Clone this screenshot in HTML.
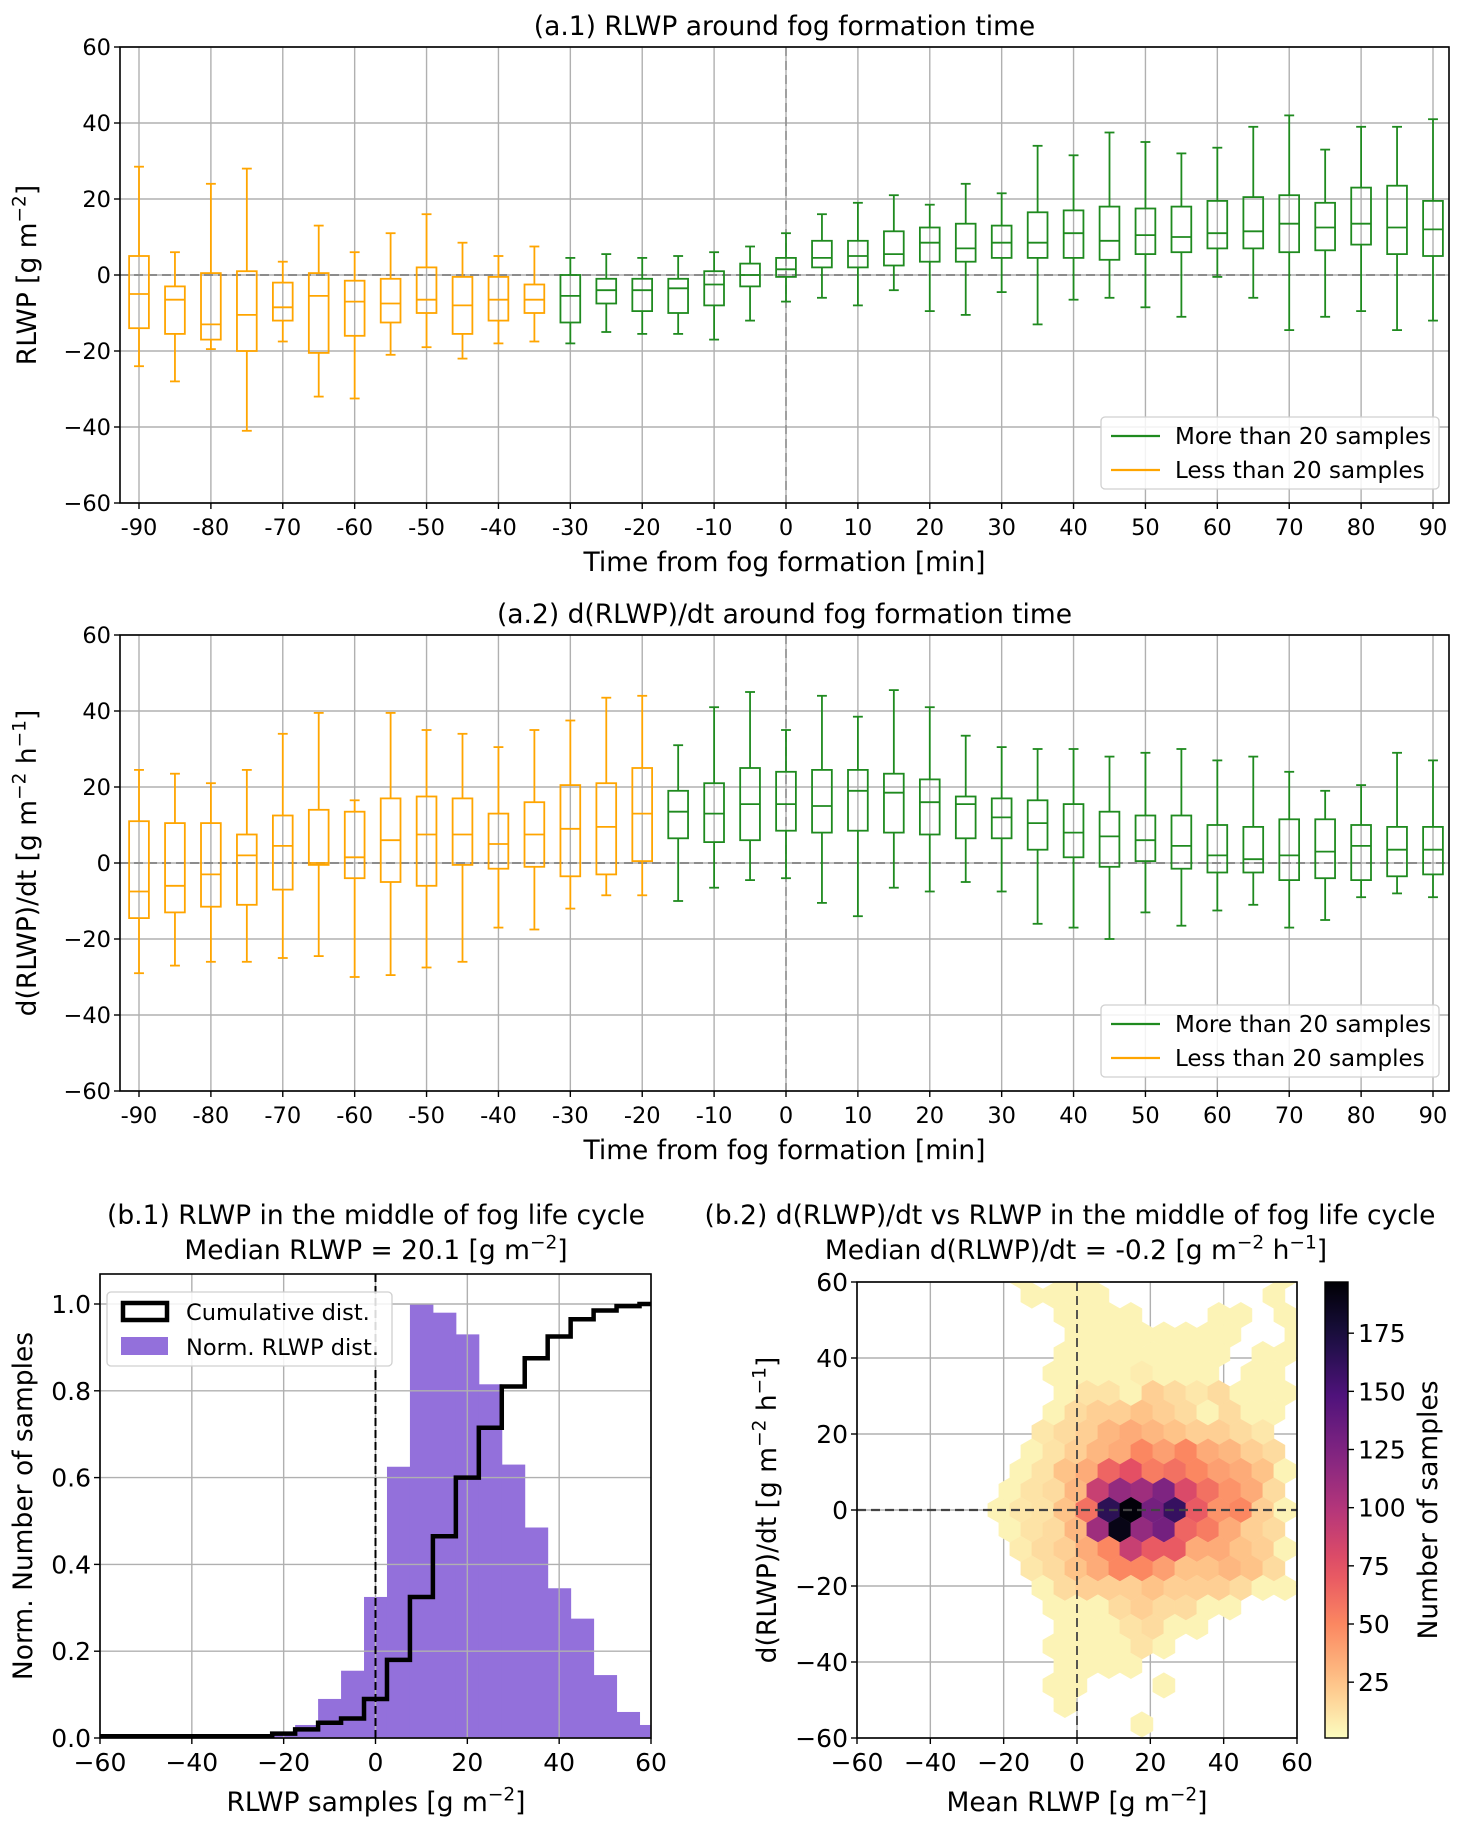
<!DOCTYPE html>
<html><head><meta charset="utf-8"><style>
html,body{margin:0;padding:0;background:#fff;}
svg{display:block;font-family:"DejaVu Sans","Liberation Sans",sans-serif;}
</style></head><body>
<svg id="fig" width="1466" height="1830" viewBox="0 0 1466 1830" xmlns="http://www.w3.org/2000/svg">
<defs>
<clipPath id="clipA1"><rect x="120" y="47" width="1329" height="456"/></clipPath>
<clipPath id="clipA2"><rect x="120" y="635" width="1329" height="456"/></clipPath>
<clipPath id="clipB1"><rect x="100" y="1274" width="551" height="464"/></clipPath>
<clipPath id="clipB2"><rect x="857" y="1282" width="440" height="456"/></clipPath>
<linearGradient id="cbGrad" x1="0" y1="1" x2="0" y2="0"></linearGradient>
</defs>
</svg>
<script>
// ---------- DATA ----------
const times = [-90,-85,-80,-75,-70,-65,-60,-55,-50,-45,-40,-35,-30,-25,-20,-15,-10,-5,0,5,10,15,20,25,30,35,40,45,50,55,60,65,70,75,80,85,90];
// panel a.1 RLWP
const a1Lo  = [-24,-28,-19.5,-41,-17.5,-32,-32.5,-21,-19,-22,-18,-17.5,-18,-15,-15.5,-15.5,-17,-12,-7,-6,-8,-4,-9.5,-10.5,-4.5,-13,-6.5,-6,-8.5,-11,-0.5,-6,-14.5,-11,-9.5,-14.5,-12];
const a1Q1  = [-14,-15.5,-17,-20,-12,-20.5,-16,-12.5,-10,-15.5,-12,-10,-12.5,-7.5,-9.5,-10,-8,-3,-0.5,2,2,2.5,3.5,3.5,4.5,4.5,4.5,4,5.5,6,7,7,6,6.5,8,5.5,5];
const a1Med = [-5,-6.5,-13,-10.5,-8.5,-5.5,-7,-7.5,-6.5,-8,-6.5,-6.5,-5.5,-4,-4,-3.5,-2.5,0,1.5,4.5,5,5.5,8.5,7,8.5,8.5,11,9,10.5,10,11,11.5,13.5,12.5,13.5,12.5,12];
const a1Q3  = [5,-3,0.5,1,-2,0.5,-1.5,-1,2,-0.5,-0.5,-2.5,0,-1,-1,-1,1,3,4.5,9,9,11.5,12.5,13.5,13,16.5,17,18,17.5,18,19.5,20.5,21,19,23,23.5,19.5];
const a1Hi  = [28.5,6,24,28,3.5,13,6,11,16,8.5,5,7.5,4.5,5.5,4.5,5,6,7.5,11,16,19,21,18.5,24,21.5,34,31.5,37.5,35,32,33.5,39,42,33,39,39,41];
const a1Few = [1,1,1,1,1,1,1,1,1,1,1,1,0,0,0,0,0,0,0,0,0,0,0,0,0,0,0,0,0,0,0,0,0,0,0,0,0];
// panel a.2 d(RLWP)/dt
const a2Lo  = [-29,-27,-26,-26,-25,-24.5,-30,-29.5,-27.5,-26,-17,-17.5,-12,-8.5,-8.5,-10,-6.5,-4.5,-4,-10.5,-14,-6.5,-7.5,-5,-7.5,-16,-17,-20,-13,-16.5,-12.5,-11,-17,-15,-9,-8,-9];
const a2Q1  = [-14.5,-13,-11.5,-11,-7,-0.5,-4,-5,-6,-0.5,-1.5,-1,-3.5,-3,0.5,6.5,5.5,6,8.5,8,8.5,8,7.5,6.5,6.5,3.5,1.5,-1,0.5,-1.5,-2.5,-2.5,-4.5,-4,-4.5,-3.5,-3];
const a2Med = [-7.5,-6,-3,2,4.5,0,1.5,6,7.5,7.5,5,7.5,9,9.5,13,13.5,13,15.5,15.5,15,19,18.5,16,15.5,12,10.5,8,7,6,4.5,2,1,2,3,4.5,3.5,3.5];
const a2Q3  = [11,10.5,10.5,7.5,12.5,14,13.5,17,17.5,17,13,16,20.5,21,25,19,21,25,24,24.5,24.5,23.5,22,17.5,17,16.5,15.5,13.5,12.5,12.5,10,9.5,11.5,11.5,10,9.5,9.5];
const a2Hi  = [24.5,23.5,21,24.5,34,39.5,16.5,39.5,35,34,30.5,35,37.5,43.5,44,31,41,45,35,44,38.5,45.5,41,33.5,30.5,30,30,28,29,30,27,28,24,19,20.5,29,27];
const a2Few = [1,1,1,1,1,1,1,1,1,1,1,1,1,1,1,0,0,0,0,0,0,0,0,0,0,0,0,0,0,0,0,0,0,0,0,0,0];
// panel b.1 histogram
const histEdges = [-32.5,-27.5,-22.5,-17.5,-12.5,-7.5,-2.5,2.5,7.5,12.5,17.5,22.5,27.5,32.5,37.5,42.5,47.5,52.5,57.5,62.5];
const histVals  = [0.003,0.005,0.015,0.03,0.09,0.155,0.325,0.625,1.0,0.98,0.93,0.815,0.63,0.485,0.345,0.275,0.145,0.06,0.03];
const cumEdges  = [-60,-22.5,-17.5,-12.5,-7.5,-2.5,2.5,7.5,12.5,17.5,22.5,27.5,32.5,37.5,42.5,47.5,52.5,57.5,60];
const cumVals   = [0.004,0.01,0.02,0.035,0.045,0.09,0.18,0.325,0.465,0.6,0.715,0.81,0.875,0.925,0.965,0.985,0.995,1.0];
// panel b.2 hexbin (rows from top)
const hexRowIdx = [12,11,10,9,8,7,6,5,4,3,2,1,0,-1,-2,-3,-4,-5,-6,-7,-8,-9,-10,-11];
const hexCounts = [
 [0,0,5,0,5,5,0,0,0,0,0,0,0,0,5],
 [0,0,0,5,5,5,5,0,0,0,0,0,0,0,5,0],
 [0,0,0,0,5,5,5,5,0,0,0,5,5,0,5],
 [0,0,0,0,0,5,5,5,5,5,5,5,5,0,0,5],
 [0,0,0,0,5,5,5,5,5,5,5,5,0,5,5],
 [0,0,0,0,5,5,5,5,8,5,5,5,0,5,5,0],
 [0,0,0,0,5,12,12,5,20,15,10,15,5,5,5],
 [0,0,0,0,5,15,20,20,25,20,15,5,15,5,5,0],
 [0,0,0,10,15,20,30,35,30,25,20,20,15,10,0],
 [0,0,0,5,12,20,30,35,50,40,50,35,30,20,15,0],
 [0,0,5,12,25,35,65,75,55,60,50,40,35,25,5],
 [0,0,5,12,15,30,90,115,110,125,80,60,45,35,15,0],
 [0,5,10,12,25,60,165,195,130,160,70,45,50,20,5],
 [0,0,5,12,15,30,110,190,115,130,65,55,35,20,15,0],
 [0,0,8,15,20,35,50,90,70,70,35,35,25,20,5],
 [0,0,0,10,15,25,35,50,50,40,25,25,30,25,15,0],
 [0,0,0,5,15,20,20,20,25,20,20,20,15,5,5],
 [0,0,0,0,5,5,5,15,20,15,15,5,5,0,0,0],
 [0,0,0,0,5,5,5,12,15,5,5,0,0,0,0],
 [0,0,0,0,5,5,5,5,12,5,0,0,0,0,0,0],
 [0,0,0,0,5,5,5,5,0,0,0,0,0,0,0],
 [0,0,0,0,5,5,0,0,0,5,0,0,0,0,0,0],
 [0,0,0,0,5,0,0,0,0,0,0,0,0,0,0],
 [0,0,0,0,0,0,0,0,5,0,0,0,0,0,0,0]
];
const cbTicks = [25,50,75,100,125,150,175];
const xTicksA = [-90,-80,-70,-60,-50,-40,-30,-20,-10,0,10,20,30,40,50,60,70,80,90];
const yTicksA = [-60,-40,-20,0,20,40,60];
const xTicksB = [-60,-40,-20,0,20,40,60];
const yTicksB1 = [0,0.2,0.4,0.6,0.8,1.0];

// ---------- HELPERS ----------
const NS = 'http://www.w3.org/2000/svg';
const svg = document.getElementById('fig');
const FT = 22.5;   // tick font (top)
const FTB = 25;    // tick font (bottom)
const FL = 26.5;   // axis label font
const FTI = 26.5;  // top titles
const FTIB = 26.5; // bottom titles
function mk(tag, attrs, parent){
  const e = document.createElementNS(NS, tag);
  for (const k in attrs) e.setAttribute(k, attrs[k]);
  (parent||svg).appendChild(e);
  return e;
}
function txt(s, x, y, size, anchor, parent, rot){
  const t = mk('text', {x:x, y:y, 'font-size':size, 'text-anchor':anchor||'middle', fill:'#000'}, parent);
  if (rot) t.setAttribute('transform', 'rotate(' + rot + ' ' + x + ' ' + y + ')');
  t.textContent = s;
  return t;
}
function scale(d0, d1, p0, p1){ return v => p0 + (v - d0) / (d1 - d0) * (p1 - p0); }
function fmtMinus(v){ return String(v).replace('-', '\u2212'); }
function sup(s, fs){ return '<tspan dy="-' + (fs*0.4) + '" font-size="' + (fs*0.7) + '">' + s + '</tspan>'; }

// ---------- BOX PANELS ----------
function boxPanel(id, top, bottom, lo, q1, med, q3, hi, few, title, ylabelParts){
  const L = 120, R = 1449;
  const xs = scale(-90, 90, 139, 1433);
  const ys = scale(-60, 60, bottom, top);
  const g = mk('g', {});
  
  
  const grid = mk('g', {stroke:'#b0b0b0', 'stroke-width':1.4}, g);
  
  
  xTicksA.forEach(t => { mk('line', {x1:xs(t), x2:xs(t), y1:top, y2:bottom}, grid); });
  yTicksA.forEach(t => { mk('line', {x1:L, x2:R, y1:ys(t), y2:ys(t)}, grid); });
  const zl = mk('g', {stroke:'#8c8c8c', 'stroke-width':2, 'stroke-dasharray':'9,5'}, g);
  
  
  mk('line', {x1:L, x2:R, y1:ys(0), y2:ys(0)}, zl);
  mk('line', {x1:xs(0), x2:xs(0), y1:top, y2:bottom, 'stroke-width':1.5}, zl);
  const boxes = mk('g', {'clip-path':'url(#clip' + (id === 'a1' ? 'A1' : 'A2') + ')', fill:'none', 'stroke-width':1.8}, g);
  
  
  const hw = (xs(1.375) - xs(0)), cw = hw / 2;
  times.forEach((t, i) => {
    const c = few[i] ? '#ffa500' : '#1f8a1f';
    const bg = mk('g', {stroke:c}, boxes);
    
    
    const cx = xs(t);
    mk('rect', {x:cx - hw, y:ys(q3[i]), width:2*hw, height:ys(q1[i]) - ys(q3[i])}, bg);
    mk('line', {x1:cx - hw, x2:cx + hw, y1:ys(med[i]), y2:ys(med[i])}, bg);
    mk('line', {x1:cx, x2:cx, y1:ys(q3[i]), y2:ys(hi[i])}, bg);
    mk('line', {x1:cx, x2:cx, y1:ys(q1[i]), y2:ys(lo[i])}, bg);
    mk('line', {x1:cx - cw, x2:cx + cw, y1:ys(hi[i]), y2:ys(hi[i])}, bg);
    mk('line', {x1:cx - cw, x2:cx + cw, y1:ys(lo[i]), y2:ys(lo[i])}, bg);
  });
  const frame = mk('rect', {x:L, y:top, width:R - L, height:bottom - top, fill:'none', stroke:'#000', 'stroke-width':1.6}, g);
  
  
  const xt = mk('g', {}, g);
  
  
  xTicksA.forEach(t => {
    mk('line', {x1:xs(t), x2:xs(t), y1:bottom, y2:bottom + 6, stroke:'#000', 'stroke-width':1.4}, xt);
    txt(String(t), xs(t), bottom + 32, FT, 'middle', xt);
  });
  const yt = mk('g', {}, g);
  
  
  yTicksA.forEach(t => {
    mk('line', {x1:L - 6, x2:L, y1:ys(t), y2:ys(t), stroke:'#000', 'stroke-width':1.4}, yt);
    txt(fmtMinus(t), L - 9, ys(t) + 8, FT, 'end', yt);
  });
  const ti = txt(title, (L + R) / 2, top - 12, FTI, 'middle', g);
  
  
  const xl = txt('Time from fog formation [min]', (L + R) / 2, bottom + 68, FL, 'middle', g);
  
  
  const yl = mk('text', {x:36, y:(top + bottom) / 2, 'font-size':FL, 'text-anchor':'middle', transform:'rotate(-90 36 ' + (top + bottom) / 2 + ')'}, g);
  
  
  yl.innerHTML = ylabelParts;
  // legend
  const lg = mk('g', {}, g);
  
  
  const ly = top + 370;
  mk('rect', {x:1101, y:ly, width:338, height:72, rx:4, fill:'#fff', 'fill-opacity':0.85, stroke:'#d0d0d0', 'stroke-width':1.3}, lg);
  const e1 = mk('line', {x1:1111, x2:1160, y1:ly + 19, y2:ly + 19, stroke:'#1f8a1f', 'stroke-width':2.2}, lg);
  
  
  txt('More than 20 samples', 1175, ly + 27, 23, 'start', lg);
  const e2 = mk('line', {x1:1111, x2:1160, y1:ly + 53, y2:ly + 53, stroke:'#ffa500', 'stroke-width':2.2}, lg);
  
  
  txt('Less than 20 samples', 1175, ly + 61, 23, 'start', lg);
}
boxPanel('a1', 47, 503, a1Lo, a1Q1, a1Med, a1Q3, a1Hi, a1Few, '(a.1) RLWP around fog formation time',
  'RLWP [g m' + sup('\u22122', FL) + '<tspan dy="' + (FL*0.4) + '">]</tspan>');
boxPanel('a2', 635, 1091, a2Lo, a2Q1, a2Med, a2Q3, a2Hi, a2Few, '(a.2) d(RLWP)/dt around fog formation time',
  'd(RLWP)/dt [g m' + sup('\u22122', FL) + '<tspan dy="' + (FL*0.4) + '"> h</tspan>' + sup('\u22121', FL) + '<tspan dy="' + (FL*0.4) + '">]</tspan>');

// ---------- PANEL b.1 ----------
(function(){
  const L = 100, R = 651, T = 1274, B = 1738;
  const xs = scale(-60, 60, L, R);
  const ys = scale(0, 1, 1738, 1304);
  const g = mk('g', {});
  
  
  const bars = mk('g', {'clip-path':'url(#clipB1)', fill:'#9370db'}, g);
  
  
  histVals.forEach((v, i) => {
    const r = mk('rect', {x:xs(histEdges[i]), y:ys(v), width:xs(histEdges[i+1]) - xs(histEdges[i]) + 0.5, height:ys(0) - ys(v)}, bars);
    
    
  });
  const grid = mk('g', {stroke:'#b0b0b0', 'stroke-width':1.4}, g);
  
  
  xTicksB.forEach(t => { mk('line', {x1:xs(t), x2:xs(t), y1:T, y2:B}, grid); });
  yTicksB1.forEach(t => { mk('line', {x1:L, x2:R, y1:ys(t), y2:ys(t)}, grid); });
  const z = mk('line', {x1:xs(0), x2:xs(0), y1:T, y2:B, stroke:'#000', 'stroke-width':2, 'stroke-dasharray':'8,4'}, g);
  
  
  let d = '';
  cumVals.forEach((v, i) => {
    d += (i === 0 ? 'M' : 'L') + xs(cumEdges[i]) + ',' + ys(v) + 'L' + xs(cumEdges[i+1]) + ',' + ys(v);
  });
  const cum = mk('path', {d:d, fill:'none', stroke:'#000', 'stroke-width':4.5, 'clip-path':'url(#clipB1)'}, g);
  
  
  const frame = mk('rect', {x:L, y:T, width:R - L, height:B - T, fill:'none', stroke:'#000', 'stroke-width':1.6}, g);
  
  
  const xt = mk('g', {}, g);
  
  
  xTicksB.forEach(t => {
    mk('line', {x1:xs(t), x2:xs(t), y1:B, y2:B + 6, stroke:'#000', 'stroke-width':1.4}, xt);
    txt(fmtMinus(t), xs(t), B + 33, FTB, 'middle', xt);
  });
  const yt = mk('g', {}, g);
  
  
  yTicksB1.forEach(t => {
    mk('line', {x1:L - 6, x2:L, y1:ys(t), y2:ys(t), stroke:'#000', 'stroke-width':1.4}, yt);
    txt(t.toFixed(1), L - 9, ys(t) + 9, FTB, 'end', yt);
  });
  const t1 = txt('(b.1) RLWP in the middle of fog life cycle', 376, 1224, FTIB, 'middle', g);
  
  
  const t2 = mk('text', {x:376, y:1259, 'font-size':FTIB, 'text-anchor':'middle'}, g);
  
  
  t2.innerHTML = 'Median RLWP = 20.1 [g m' + sup('\u22122', FTIB) + '<tspan dy="' + (FTIB*0.4) + '">]</tspan>';
  const xl = mk('text', {x:376, y:1811, 'font-size':FL, 'text-anchor':'middle'}, g);
  
  
  xl.innerHTML = 'RLWP samples [g m' + sup('\u22122', FL) + '<tspan dy="' + (FL*0.4) + '">]</tspan>';
  const yl = txt('Norm. Number of samples', 32, 1506, FL, 'middle', g, -90);
  
  
  const lg = mk('g', {}, g);
  
  
  mk('rect', {x:107, y:1292, width:285, height:74, rx:4, fill:'#fff', 'fill-opacity':0.85, stroke:'#d0d0d0', 'stroke-width':1.3}, lg);
  const s1 = mk('rect', {x:123, y:1303, width:44, height:17, fill:'none', stroke:'#000', 'stroke-width':4.5}, lg);
  
  
  txt('Cumulative dist.', 186, 1320, 22.5, 'start', lg);
  const s2 = mk('rect', {x:121, y:1337, width:47, height:18, fill:'#9370db'}, lg);
  
  
  txt('Norm. RLWP dist.', 186, 1355, 22.5, 'start', lg);
})();

// ---------- PANEL b.2 ----------
const magmaStops = [[0,'#000004'],[0.125,'#1c1044'],[0.25,'#4f127b'],[0.375,'#812581'],[0.5,'#b5367a'],[0.625,'#e55064'],[0.75,'#fb8761'],[0.875,'#fec287'],[1,'#fcfdbf']];
function hex2rgb(h){ return [parseInt(h.substr(1,2),16), parseInt(h.substr(3,2),16), parseInt(h.substr(5,2),16)]; }
function magma(t){
  t = Math.max(0, Math.min(1, t));
  for (let i = 1; i < magmaStops.length; i++){
    if (t <= magmaStops[i][0]){
      const a = magmaStops[i-1], b = magmaStops[i];
      const f = (t - a[0]) / (b[0] - a[0]);
      const ca = hex2rgb(a[1]), cb = hex2rgb(b[1]);
      return 'rgb(' + ca.map((v, k) => Math.round(v + (cb[k] - v) * f)).join(',') + ')';
    }
  }
  return magmaStops[magmaStops.length-1][1];
}
const cMin = 1, cMax = 197;
(function(){
  const L = 857, R = 1297, T = 1282, B = 1738;
  const xs = scale(-60, 60, L, R);
  const ys = scale(-60, 60, B, T);
  const g = mk('g', {});
  
  
  const grid = mk('g', {stroke:'#b0b0b0', 'stroke-width':1.4}, g);
  
  
  xTicksB.forEach(t => { mk('line', {x1:xs(t), x2:xs(t), y1:T, y2:B}, grid); });
  xTicksB.forEach(t => { mk('line', {x1:L, x2:R, y1:ys(t), y2:ys(t)}, grid); });
  const hg = mk('g', {'clip-path':'url(#clipB2)'}, g);
  
  
  const w = 22, rr = 12.7;
  hexCounts.forEach((row, ri) => {
    const r = hexRowIdx[ri];
    const odd = Math.abs(r) % 2 === 1;
    const x0 = odd ? -30.3 : -27.3;
    row.forEach((c, j) => {
      if (!c) return;
      const cx = xs(x0 + 6 * j), cy = ys(r * 5.13);
      const pts = [[cx, cy - rr], [cx + w/2, cy - rr/2], [cx + w/2, cy + rr/2], [cx, cy + rr], [cx - w/2, cy + rr/2], [cx - w/2, cy - rr/2]].map(p => p.join(',')).join(' ');
      const col = magma(1 - (c - cMin) / (cMax - cMin));
      const p = mk('polygon', {points:pts, fill:col, stroke:col, 'stroke-width':0.6}, hg);
      
      
    });
  });
  const zl = mk('g', {stroke:'#444', 'stroke-width':2.2, 'stroke-dasharray':'9,5'}, g);
  
  
  mk('line', {x1:L, x2:R, y1:ys(0), y2:ys(0)}, zl);
  mk('line', {x1:xs(0), x2:xs(0), y1:T, y2:B, 'stroke-width':1.8}, zl);
  const frame = mk('rect', {x:L, y:T, width:R - L, height:B - T, fill:'none', stroke:'#000', 'stroke-width':1.6}, g);
  
  
  const xt = mk('g', {}, g);
  
  
  xTicksB.forEach(t => {
    mk('line', {x1:xs(t), x2:xs(t), y1:B, y2:B + 6, stroke:'#000', 'stroke-width':1.4}, xt);
    txt(fmtMinus(t), xs(t), B + 33, FTB, 'middle', xt);
  });
  const yt = mk('g', {}, g);
  
  
  xTicksB.forEach(t => {
    mk('line', {x1:L - 6, x2:L, y1:ys(t), y2:ys(t), stroke:'#000', 'stroke-width':1.4}, yt);
    txt(fmtMinus(t), L - 9, ys(t) + 9, FTB, 'end', yt);
  });
  const t1 = txt('(b.2) d(RLWP)/dt vs RLWP in the middle of fog life cycle', 1070, 1224, FTIB, 'middle', g);
  
  
  const t2 = mk('text', {x:1076, y:1259, 'font-size':FTIB, 'text-anchor':'middle'}, g);
  
  
  t2.innerHTML = 'Median d(RLWP)/dt = -0.2 [g m' + sup('\u22122', FTIB) + '<tspan dy="' + (FTIB*0.4) + '"> h</tspan>' + sup('\u22121', FTIB) + '<tspan dy="' + (FTIB*0.4) + '">]</tspan>';
  const xl = mk('text', {x:1077, y:1811, 'font-size':FL, 'text-anchor':'middle'}, g);
  
  
  xl.innerHTML = 'Mean RLWP [g m' + sup('\u22122', FL) + '<tspan dy="' + (FL*0.4) + '">]</tspan>';
  const yl = mk('text', {x:776, y:1510, 'font-size':FL, 'text-anchor':'middle', transform:'rotate(-90 776 1510)'}, g);
  
  
  yl.innerHTML = 'd(RLWP)/dt [g m' + sup('\u22122', FL) + '<tspan dy="' + (FL*0.4) + '"> h</tspan>' + sup('\u22121', FL) + '<tspan dy="' + (FL*0.4) + '">]</tspan>';

  // colorbar
  const grad = document.getElementById('cbGrad');
  for (let i = 0; i <= 20; i++){
    const st = document.createElementNS(NS, 'stop');
    st.setAttribute('offset', (i / 20).toFixed(2));
    st.setAttribute('stop-color', magma(1 - i / 20));
    grad.appendChild(st);
  }
  const cb = mk('g', {}, g);
  
  
  const cy = scale(cMin, cMax, 1738, 1282);
  mk('rect', {x:1325, y:1282, width:23, height:456, fill:'url(#cbGrad)', stroke:'#000', 'stroke-width':1.4}, cb);
  cbTicks.forEach(t => {
    mk('line', {x1:1348, x2:1354, y1:cy(t), y2:cy(t), stroke:'#000', 'stroke-width':1.4}, cb);
    txt(String(t), 1358, cy(t) + 9, FTB, 'start', cb);
  });
  const cl = txt('Number of samples', 1437, 1510, FL, 'middle', cb, -90);
  
  
})();
</script>
</body></html>
